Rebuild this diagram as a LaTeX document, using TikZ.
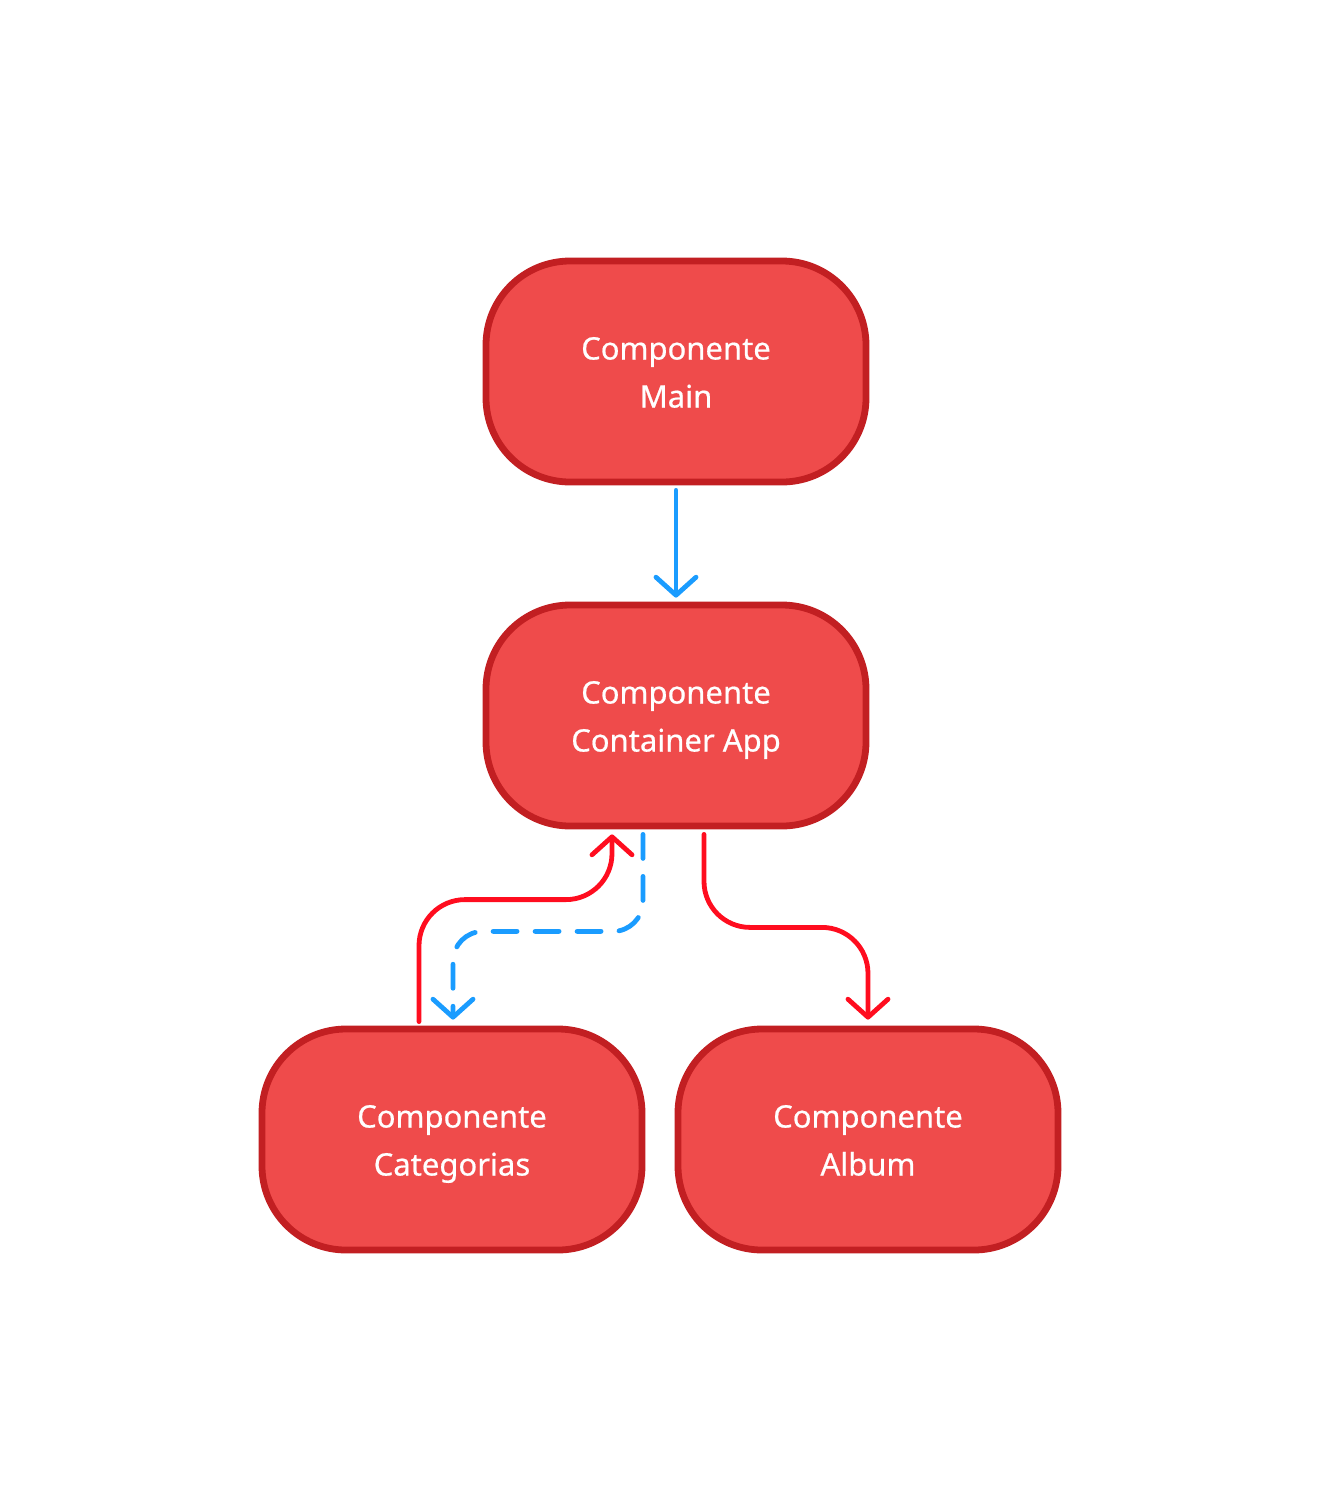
\documentclass[tikz,border=0pt]{standalone}
\usepackage{fontspec}
\setmainfont{Noto Sans}
\usetikzlibrary{arrows.meta,calc}
\definecolor{fondrouge}{HTML}{EF4B4B}
\definecolor{bordrouge}{HTML}{C21F22}
\definecolor{flecherouge}{HTML}{FF0D1F}
\definecolor{flechebleue}{HTML}{1A9CFF}
\newcommand{\ligne}{\rule[-4pt]{0pt}{20pt}}

\begin{document}
\begin{tikzpicture}[x=0.5pt, y=-0.5pt]
\tikzset{boite/.style={draw=bordrouge, fill=fondrouge, line width=3.4pt, rounded corners=42pt,
    minimum width=190pt, minimum height=110.5pt, align=center, text=white,
    font=\fontsize{15.5}{24}\selectfont\addfontfeature{FakeBold=0.6}},
  fleche/.style={line width=2.4pt, line cap=round, line join=round,
    -{Straight Barb[length=9pt,width=20pt,round]}},
  bleu/.style={fleche, flechebleue},
  rouge/.style={fleche, flecherouge}}
\useasboundingbox (0,0) rectangle (1320,1512);
\node[boite] (N1) at (676,371.5) {\ligne Componente\\Main\ligne};
\node[boite] (N2) at (676,715.5) {\ligne Componente\\Container App\ligne};
\node[boite] (N3) at (452,1139.5) {\ligne Componente\\Categorias\ligne};
\node[boite] (N4) at (868,1139.5) {\ligne Componente\\Album\ligne};
\draw[bleu, shorten <=2.5pt, shorten >=2pt] (N1) -- (N2);
\draw[rouge, rounded corners=23pt] ($(N3.north)+(-33,-4)$) -- ++(0,-122) -| ($(N2.south)+(-64,5)$);
\draw[bleu, rounded corners=15pt, dash pattern=on 12pt off 9pt] ($(N2.south)+(-33,5)$) -- ++(0,97) -| ($(N3.north)+(1,-6)$);
\draw[rouge, rounded corners=23pt] ($(N2.south)+(28,5)$) -- ++(0,93) -| ($(N4.north)+(0,-6)$);
\end{tikzpicture}
\end{document}
